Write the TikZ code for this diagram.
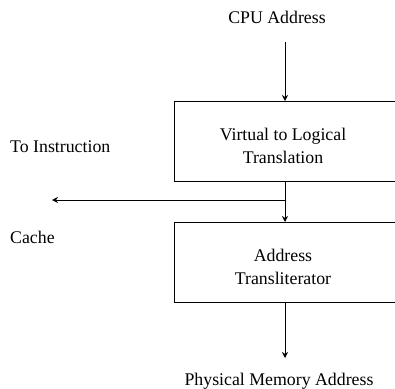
\documentclass[tikz,border=0pt]{standalone}
\usepackage{fontspec}
\setmainfont{Liberation Serif}
\usetikzlibrary{arrows.meta,positioning}
\tikzset{
  >={Stealth[length=6pt,width=6pt]},
  blk/.style={rectangle, draw=black, line width=0.9pt, minimum height=80pt,
              minimum width=260pt, anchor=north west, inner sep=0pt},
  lbl/.style={align=center, font=\fontsize{17.8}{23.5}\selectfont, inner sep=0pt},
  side/.style={anchor=west, font=\fontsize{17.8}{23.5}\selectfont, inner sep=0pt},
  line/.style={draw, line width=0.8pt, ->}
}
\begin{document}
\begin{tikzpicture}[x=1pt,y=-1pt]
\useasboundingbox (0,0) rectangle (395,388);
% boxes run off the right edge of the page
\node[blk] (virt) at (174,101) {};
\node[blk] (xlit) at (174,222) {};
\node[lbl] (virttxt) at (283,146) {Virtual to Logical\\Translation};
\node[lbl] (xlittxt) at (283,267) {Address\\Transliterator};
% texts
\node[lbl] (cpu) at (277,17) {CPU Address};
\node[lbl] (phys) at (279,381) {Physical Memory Address};
\node[side] (toinst) at (10,147) {To Instruction};
\node[side] (cache) at (10,237) {Cache};
% free ends
\coordinate (cpuend) at (285,42);
\coordinate (split) at (285,200);
\coordinate (icache) at (52,200);
\coordinate (physend) at (285,358);
% connectors
\path[line] (cpuend) -- (cpuend |- virt.north);
\path[line] (cpuend |- virt.south) -- (cpuend |- xlit.north);
\path[line] (split) -- (icache);
\path[line] (cpuend |- xlit.south) -- (physend);
\end{tikzpicture}
\end{document}
